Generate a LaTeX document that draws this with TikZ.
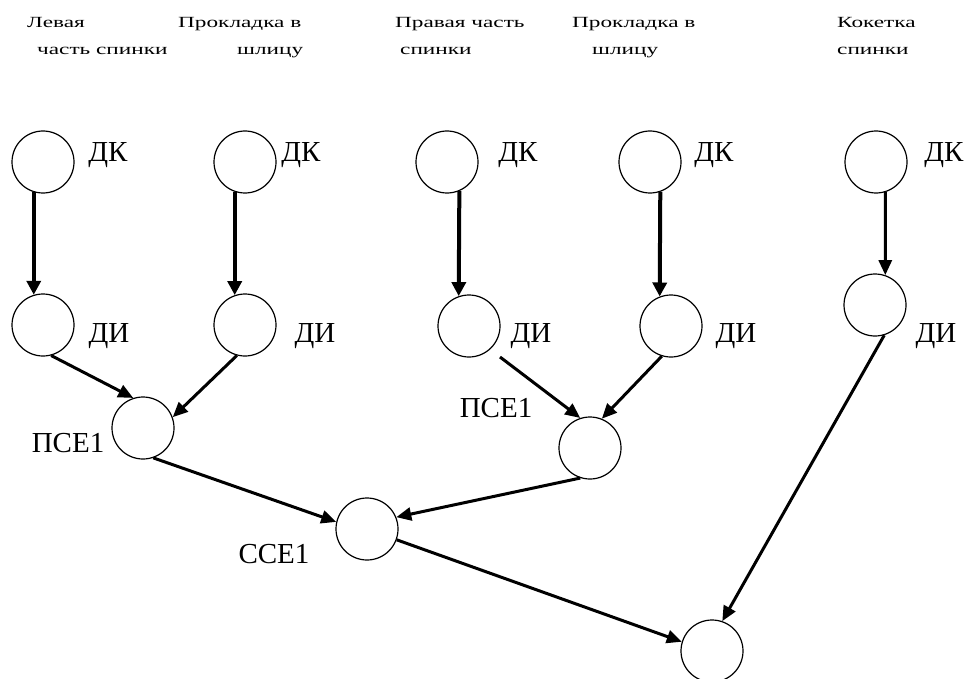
\documentclass[tikz,border=0pt]{standalone}
\usepackage{fontspec}
\setmainfont{Liberation Serif}
\newfontfamily\titlefont[FakeStretch=1.5]{Liberation Serif}
\usetikzlibrary{arrows.meta}
\begin{document}
\begin{tikzpicture}[x=1pt,y=-1pt,
  nd/.style={circle,draw,line width=1.2pt,minimum size=62pt,inner sep=0pt},
  lbl/.style={font=\fontsize{29}{29}\selectfont,inner sep=0pt,anchor=base},
  ttl/.style={font=\titlefont\fontsize{15.5}{15.5}\selectfont,inner sep=0pt,anchor=base west},
  varr/.style={line width=4pt,-{Triangle[length=14pt,width=14pt]}},
  darr/.style={line width=3pt,-{Triangle[length=15pt,width=13pt]}}]
\useasboundingbox (0,0) rectangle (968,679);

% titles
\node[ttl] (t1a) at (27,28) {Левая};
\node[ttl] (t1b) at (37,55) {часть спинки};
\node[ttl] (t2a) at (178,28) {Прокладка в};
\node[ttl] (t2b) at (237,55) {шлицу};
\node[ttl] (t3a) at (395,28) {Правая часть};
\node[ttl] (t3b) at (400,55) {спинки};
\node[ttl] (t4a) at (572,28) {Прокладка в};
\node[ttl] (t4b) at (592,55) {шлицу};
\node[ttl] (t5a) at (837,28) {Кокетка};
\node[ttl] (t5b) at (837,55) {спинки};

% circles
\node[nd] (dk1) at (43,162) {};
\node[nd] (dk2) at (245,162) {};
\node[nd] (dk3) at (447,162) {};
\node[nd] (dk4) at (650,162) {};
\node[nd] (dk5) at (876,162) {};
\node[nd] (di1) at (43,325) {};
\node[nd] (di2) at (245,325) {};
\node[nd] (di3) at (469,326) {};
\node[nd] (di4) at (671,326) {};
\node[nd] (di5) at (875,305) {};
\node[nd] (p1) at (143,428) {};
\node[nd] (p2) at (590,448) {};
\node[nd] (c1) at (367,529) {};
\node[nd] (f) at (712,651) {};

% labels
\node[lbl] (ldk1) at (108,161) {ДК};
\node[lbl] (ldk2) at (301,161) {ДК};
\node[lbl] (ldk3) at (518,161) {ДК};
\node[lbl] (ldk4) at (714,161) {ДК};
\node[lbl] (ldk5) at (944,161) {ДК};
\node[lbl] (ldi1) at (109,342) {ДИ};
\node[lbl] (ldi2) at (315,342) {ДИ};
\node[lbl] (ldi3) at (531,342) {ДИ};
\node[lbl] (ldi4) at (736,342) {ДИ};
\node[lbl] (ldi5) at (936,342) {ДИ};
\node[lbl] (lp1) at (68,452) {ПСЕ1};
\node[lbl] (lp2) at (496,417) {ПСЕ1};
\node[lbl] (lc1) at (274,563) {ССЕ1};

% vertical arrows
\draw[varr] (dk1.-107) -- (di1.107);
\draw[varr] (dk2.-109) -- (di2.109);
\draw[varr] (dk3.-67) -- (di3.109);
\draw[varr] (dk4.-71) -- (di4.111);
\draw[darr] (dk5.-73) -- (di5.71);

% diagonal arrows
\coordinate (s3) at (500,357);
\draw[darr] (di1.-75) -- (p1.108);
\draw[darr] (di2.-105) -- (p1.20);
\draw[darr] (s3) -- (p2.108);
\draw[darr] (di4.-107) -- (p2.68);
\draw[darr] (p1.-71) -- (c1.167);
\draw[darr] (p2.-108) -- (c1.22);
\draw[darr] (c1.-20) -- (f.163);
\draw[darr] (di5.-73) -- (f.71);
\end{tikzpicture}
\end{document}
